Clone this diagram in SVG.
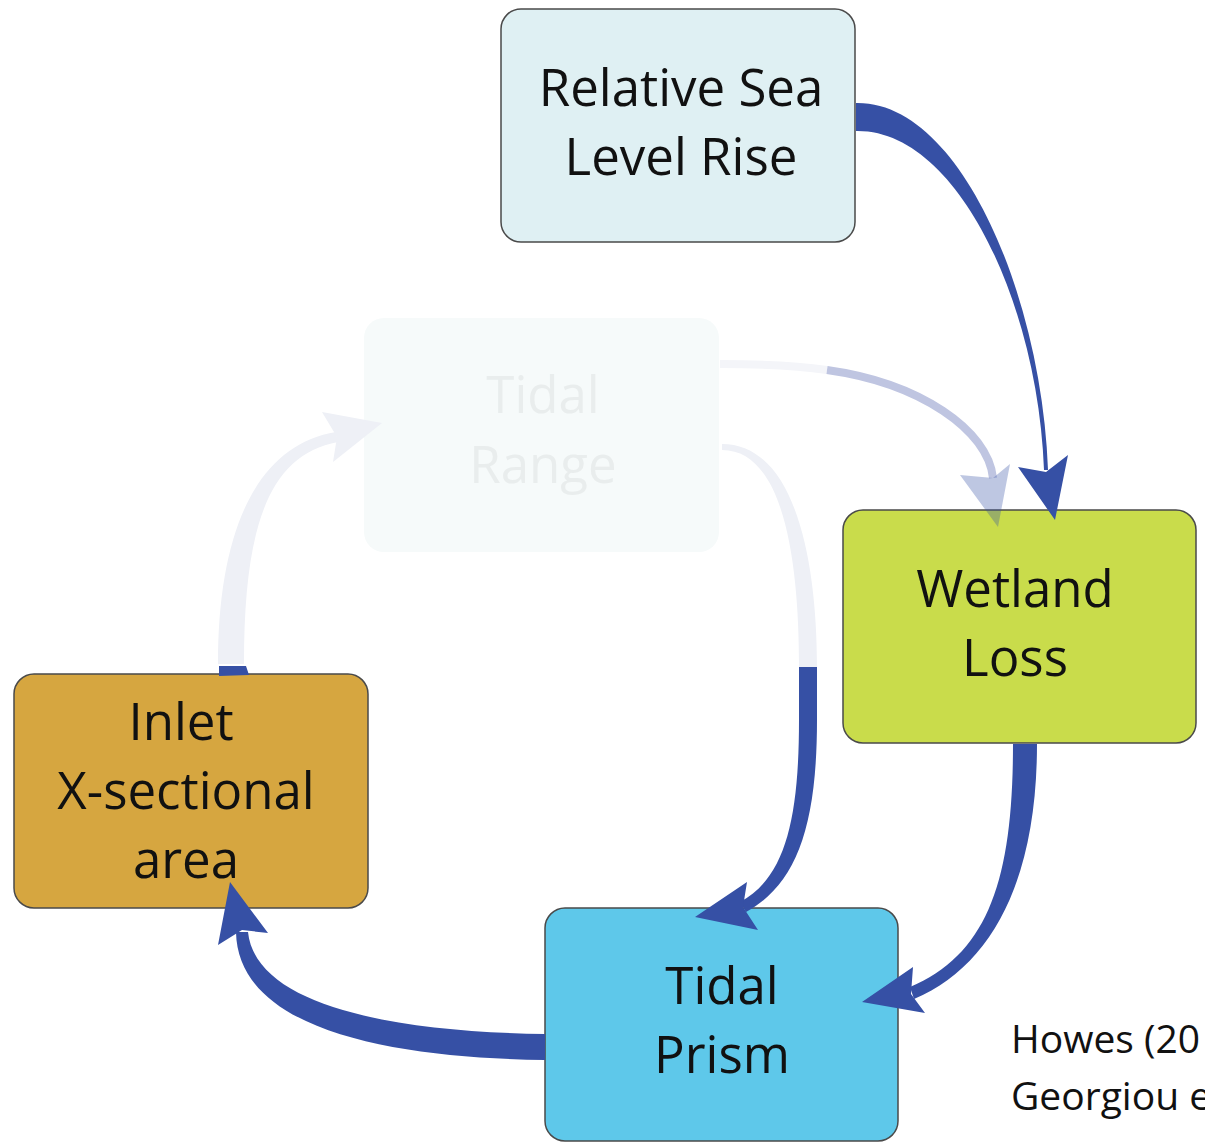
<svg xmlns="http://www.w3.org/2000/svg" width="1205" height="1146" viewBox="0 0 1205 1146">
<style>
.box{stroke:#4a4a4a;stroke-width:1.5}
.lbl{font-family:"Open Sans","Noto Sans",sans-serif;font-size:51px;fill:#111;text-anchor:middle}
.blue{fill:#3650a5}
.faint{fill:#eef0f6}
.cite{font-family:"Open Sans","Noto Sans",sans-serif;font-size:39px;fill:#111}
</style>
<rect width="1205" height="1146" fill="#ffffff"/>
<g id="node-rslr">
  <rect class="box" x="501" y="9" width="354" height="233" rx="20" fill="#dff0f3"/>
  <text class="lbl" x="681" y="106">Relative Sea</text>
  <text class="lbl" x="681" y="175">Level Rise</text>
</g>
<g id="node-tidal-range">
  <rect x="364" y="318" width="355" height="234" rx="20" fill="#f6fafa"/>
  <text class="lbl" x="543" y="413" style="fill:#e9eded">Tidal</text>
  <text class="lbl" x="543" y="483" style="fill:#e9eded">Range</text>
</g>
<g id="node-wetland">
  <rect class="box" x="843" y="510" width="353" height="233" rx="20" fill="#c9dc4b"/>
  <text class="lbl" x="1015" y="607">Wetland</text>
  <text class="lbl" x="1015" y="676">Loss</text>
</g>
<g id="node-inlet">
  <rect class="box" x="14" y="674" width="354" height="234" rx="20" fill="#d6a640"/>
  <text class="lbl" x="181" y="740">Inlet</text>
  <text class="lbl" x="186" y="809">X-sectional</text>
  <text class="lbl" x="186" y="878">area</text>
</g>
<g id="node-tidal-prism">
  <rect class="box" x="545" y="908" width="353" height="233" rx="20" fill="#5ec8ea"/>
  <text class="lbl" x="722" y="1004">Tidal</text>
  <text class="lbl" x="722" y="1073">Prism</text>
</g>
<g id="connectors">
  <!-- Tidal Range -> Wetland Loss (faded) -->
  <path d="M720 364 C760 364 800 366 827 370" fill="none" stroke="#f4f5f9" stroke-width="8"/>
  <path d="M827 370 C920 383 988 430 993 478" fill="none" stroke="#bfc5e1" stroke-width="8"/>
  <polygon points="998,527 960,475 993,478 1010,464" fill="#3650a5" fill-opacity="0.32"/>
  <!-- Relative Sea Level Rise -> Wetland Loss -->
  <path class="blue" d="M856 103 C962 101 1042 300 1048 470 L1044 470 C1038 305 958 129 856 131 Z"/>
  <polygon class="blue" points="1055,520 1018,467 1046,472 1068,455"/>
  <!-- Tidal Range -> Tidal Prism -->
  <path class="faint" d="M722 444 C795 444 817 560 817 667 L799 667 C799 565 785 450 722 450 Z"/>
  <path class="blue" d="M799 667 L817 667 L817 720 C817 830 795 885 746 912 L740 902 C785 878 799 820 799 720 Z"/>
  <polygon class="blue" points="695,917 747,882 743,907 758,930"/>
  <!-- Wetland Loss -> Tidal Prism -->
  <path class="blue" d="M1037 744 C1037 880 992 966 914 999 L910 987 C988 954 1013 880 1013 744 Z"/>
  <polygon class="blue" points="862,1002 913,967 911,994 925,1013"/>
  <!-- Tidal Prism -> Inlet -->
  <path class="blue" d="M545 1060 C400 1058 238 1033 236 932 L248 932 C256 1008 400 1032 545 1034 Z"/>
  <polygon class="blue" points="230,882 218,945 242,930 268,933"/>
  <!-- Inlet -> Tidal Range (faded) -->
  <path class="faint" d="M218 664 C218 530 257 445 336 432 L338 442 C267 455 244 530 244 664 Z"/>
  <polygon class="faint" points="382,423 322,412 337,437 333,462"/>
  <polygon class="blue" points="219,666 246,666 249,675 219,676"/>
</g>
<g id="citation">
  <text class="cite" x="1011" y="1053">Howes (20</text>
  <text class="cite" x="1011" y="1110">Georgiou e</text>
</g>
</svg>
